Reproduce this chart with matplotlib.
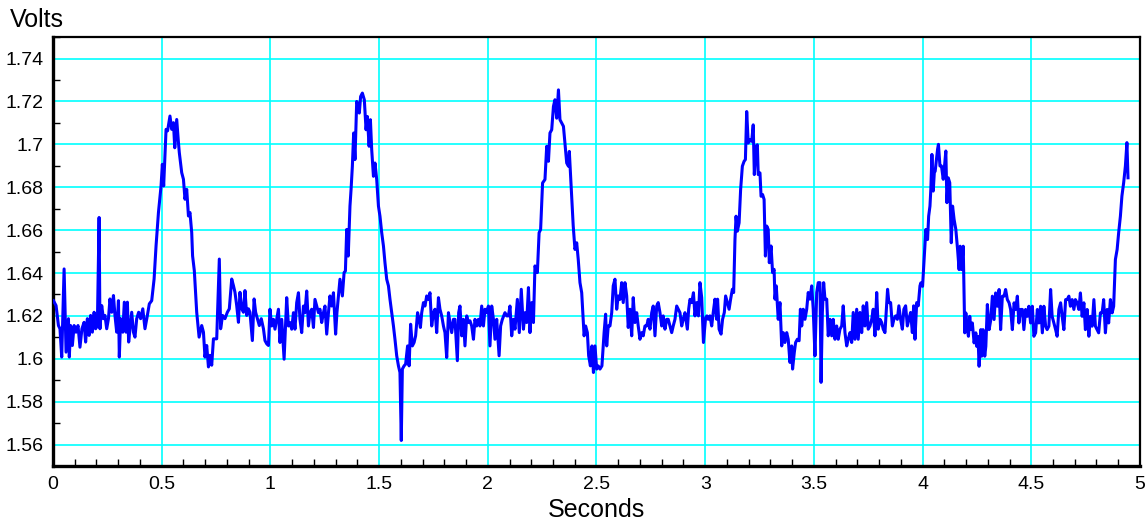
import numpy as np
import matplotlib
matplotlib.use("Agg")
import matplotlib.pyplot as plt
from matplotlib.ticker import MultipleLocator, FuncFormatter

# one list pair per second
t0 = [0.002, 0.014, 0.025, 0.032, 0.040, 0.051, 0.060, 0.071, 0.075, 0.081, 0.089, 0.097, 0.106, 0.115,
      0.124, 0.133, 0.143, 0.150, 0.158, 0.166, 0.173, 0.181, 0.189, 0.196, 0.204, 0.212, 0.216, 0.224,
      0.232, 0.239, 0.247, 0.255, 0.262, 0.270, 0.278, 0.285, 0.293, 0.301, 0.305, 0.311, 0.321, 0.328,
      0.336, 0.342, 0.348, 0.354, 0.362, 0.370, 0.377, 0.385, 0.394, 0.403, 0.413, 0.423, 0.434, 0.443,
      0.454, 0.465, 0.474, 0.485, 0.497, 0.503, 0.509, 0.515, 0.520, 0.527, 0.538, 0.546, 0.554, 0.560,
      0.569, 0.577, 0.581, 0.592, 0.600, 0.607, 0.615, 0.623, 0.630, 0.638, 0.642, 0.650, 0.661, 0.672,
      0.684, 0.692, 0.699, 0.707, 0.715, 0.722, 0.730, 0.738, 0.753, 0.765, 0.771, 0.780, 0.791, 0.802,
      0.811, 0.822, 0.830, 0.837, 0.845, 0.853, 0.860, 0.868, 0.876, 0.883, 0.891, 0.899, 0.906, 0.917,
      0.925, 0.932, 0.940, 0.949, 0.958, 0.968, 0.975, 0.983, 0.991]
v0 = [1.6271, 1.6248, 1.6155, 1.6140, 1.6008, 1.6419, 1.6031, 1.6187, 1.6008, 1.6155, 1.6062, 1.6155,
      1.6124, 1.6155, 1.6054, 1.6140, 1.6170, 1.6078, 1.6187, 1.6109, 1.6202, 1.6124, 1.6217, 1.6140,
      1.6155, 1.6659, 1.6140, 1.6248, 1.6187, 1.6202, 1.6140, 1.6187, 1.6279, 1.6217, 1.6295, 1.6202,
      1.6124, 1.6271, 1.6008, 1.6187, 1.6124, 1.6264, 1.6124, 1.6264, 1.6078, 1.6140, 1.6217, 1.6124,
      1.6101, 1.6187, 1.6217, 1.6187, 1.6233, 1.6140, 1.6202, 1.6256, 1.6271, 1.6372, 1.6527, 1.6682,
      1.6806, 1.6907, 1.6806, 1.6946, 1.7070, 1.7063, 1.7132, 1.7070, 1.7101, 1.6984, 1.7116, 1.7008,
      1.6961, 1.6868, 1.6837, 1.6744, 1.6790, 1.6666, 1.6682, 1.6589, 1.6480, 1.6411, 1.6217, 1.6101,
      1.6155, 1.6124, 1.6008, 1.6062, 1.5962, 1.6016, 1.5970, 1.6093, 1.6093, 1.6465, 1.6140, 1.6202,
      1.6187, 1.6217, 1.6233, 1.6372, 1.6341, 1.6310, 1.6248, 1.6170, 1.6310, 1.6233, 1.6217, 1.6318,
      1.6202, 1.6233, 1.6217, 1.6085, 1.6279, 1.6217, 1.6187, 1.6155, 1.6187, 1.6140, 1.6085, 1.6070,
      1.6062]

t1 = [0.998, 1.006, 1.014, 1.021, 1.029, 1.037, 1.044, 1.052, 1.063, 1.075, 1.083, 1.090, 1.098, 1.106,
      1.113, 1.121, 1.129, 1.136, 1.144, 1.152, 1.159, 1.167, 1.175, 1.182, 1.190, 1.198, 1.205, 1.213,
      1.221, 1.228, 1.236, 1.244, 1.251, 1.259, 1.267, 1.274, 1.282, 1.290, 1.300, 1.306, 1.313, 1.320,
      1.331, 1.339, 1.345, 1.351, 1.358, 1.366, 1.371, 1.377, 1.383, 1.389, 1.397, 1.404, 1.409, 1.415,
      1.423, 1.432, 1.440, 1.446, 1.454, 1.460, 1.466, 1.474, 1.481, 1.489, 1.497, 1.504, 1.512, 1.520,
      1.527, 1.535, 1.543, 1.550, 1.558, 1.566, 1.573, 1.581, 1.589, 1.596, 1.602, 1.607, 1.615, 1.622,
      1.631, 1.638, 1.645, 1.653, 1.661, 1.668, 1.677, 1.684, 1.690, 1.696, 1.704, 1.711, 1.719, 1.727,
      1.734, 1.742, 1.750, 1.757, 1.765, 1.773, 1.780, 1.788, 1.796, 1.803, 1.811, 1.819, 1.826, 1.834,
      1.842, 1.849, 1.860, 1.866, 1.872, 1.880, 1.888, 1.895, 1.903, 1.911, 1.918, 1.926, 1.934, 1.941,
      1.949, 1.957, 1.964, 1.972, 1.980, 1.987, 1.993]
v1 = [1.6231, 1.6153, 1.6184, 1.6138, 1.6184, 1.6231, 1.6076, 1.6184, 1.5998, 1.6285, 1.6153, 1.6169,
      1.6138, 1.6215, 1.6138, 1.6262, 1.6308, 1.6184, 1.6122, 1.6246, 1.6215, 1.6316, 1.6153, 1.6215,
      1.6231, 1.6146, 1.6277, 1.6246, 1.6215, 1.6231, 1.6169, 1.6215, 1.6246, 1.6115, 1.6215, 1.6293,
      1.6246, 1.6308, 1.6115, 1.6215, 1.6293, 1.6371, 1.6293, 1.6402, 1.6409, 1.6603, 1.6479, 1.6712,
      1.6789, 1.6898, 1.7053, 1.6929, 1.7200, 1.7177, 1.7146, 1.7223, 1.7239, 1.7208, 1.7068, 1.7130,
      1.6991, 1.7115, 1.6975, 1.6851, 1.6913, 1.6836, 1.6712, 1.6665, 1.6588, 1.6526, 1.6448, 1.6371,
      1.6340, 1.6278, 1.6215, 1.6153, 1.6091, 1.6014, 1.5967, 1.5936, 1.5619, 1.5952, 1.5967, 1.5975,
      1.6060, 1.5967, 1.6161, 1.6060, 1.6076, 1.6107, 1.6215, 1.6184, 1.6146, 1.6215, 1.6262, 1.6246,
      1.6293, 1.6277, 1.6308, 1.6153, 1.6215, 1.6231, 1.6122, 1.6285, 1.6231, 1.6200, 1.6153, 1.6122,
      1.6006, 1.6215, 1.6169, 1.6122, 1.6184, 1.6184, 1.5991, 1.6215, 1.6246, 1.6107, 1.6184, 1.6060,
      1.6200, 1.6169, 1.6177, 1.6153, 1.6091, 1.6184, 1.6153, 1.6184, 1.6153, 1.6246, 1.6153, 1.6231,
      1.6215]

t2 = [2.003, 2.010, 2.018, 2.026, 2.033, 2.041, 2.052, 2.059, 2.067, 2.079, 2.087, 2.095, 2.102, 2.110,
      2.118, 2.125, 2.136, 2.145, 2.154, 2.164, 2.171, 2.179, 2.187, 2.194, 2.202, 2.210, 2.217, 2.228,
      2.236, 2.243, 2.252, 2.263, 2.271, 2.279, 2.286, 2.294, 2.302, 2.309, 2.317, 2.325, 2.332, 2.340,
      2.348, 2.355, 2.363, 2.371, 2.375, 2.386, 2.393, 2.401, 2.409, 2.416, 2.424, 2.432, 2.443, 2.450,
      2.458, 2.464, 2.472, 2.479, 2.486, 2.493, 2.501, 2.508, 2.516, 2.525, 2.535, 2.542, 2.547, 2.554,
      2.562, 2.570, 2.577, 2.585, 2.593, 2.600, 2.608, 2.616, 2.623, 2.631, 2.639, 2.646, 2.654, 2.662,
      2.669, 2.677, 2.685, 2.692, 2.700, 2.708, 2.715, 2.723, 2.731, 2.738, 2.746, 2.754, 2.761, 2.769,
      2.777, 2.784, 2.792, 2.800, 2.807, 2.815, 2.823, 2.830, 2.838, 2.846, 2.853, 2.861, 2.869, 2.876,
      2.884, 2.892, 2.899, 2.907, 2.918, 2.924, 2.930, 2.938, 2.946, 2.953, 2.961, 2.969, 2.976, 2.984,
      2.992]
v2 = [1.6246, 1.6060, 1.6246, 1.6184, 1.6091, 1.6184, 1.6014, 1.6153, 1.6184, 1.6215, 1.6200, 1.6200,
      1.6246, 1.6107, 1.6184, 1.6138, 1.6277, 1.6122, 1.6324, 1.6138, 1.6215, 1.6169, 1.6332, 1.6122,
      1.6262, 1.6169, 1.6433, 1.6402, 1.6588, 1.6603, 1.6820, 1.6836, 1.6991, 1.6921, 1.7053, 1.7068,
      1.7177, 1.7208, 1.7122, 1.7254, 1.7115, 1.7099, 1.7084, 1.7006, 1.6913, 1.6898, 1.6967, 1.6758,
      1.6619, 1.6510, 1.6541, 1.6464, 1.6355, 1.6308, 1.6107, 1.6153, 1.6122, 1.6014, 1.5967, 1.6060,
      1.5936, 1.6060, 1.5952, 1.5967, 1.5952, 1.5967, 1.6122, 1.6208, 1.6060, 1.6153, 1.6153, 1.6215,
      1.6340, 1.6371, 1.6231, 1.6293, 1.6277, 1.6355, 1.6262, 1.6355, 1.6293, 1.6146, 1.6231, 1.6107,
      1.6285, 1.6169, 1.6215, 1.6153, 1.6091, 1.6122, 1.6107, 1.6153, 1.6153, 1.6184, 1.6138, 1.6215,
      1.6246, 1.6107, 1.6246, 1.6262, 1.6215, 1.6153, 1.6200, 1.6138, 1.6184, 1.6184, 1.6153, 1.6122,
      1.6153, 1.6184, 1.6246, 1.6231, 1.6215, 1.6153, 1.6184, 1.6215, 1.6138, 1.6231, 1.6277, 1.6262,
      1.6308, 1.6200, 1.6262, 1.6200, 1.6355, 1.6285, 1.6076]

t3 = [3.002, 3.008, 3.014, 3.022, 3.030, 3.037, 3.045, 3.053, 3.057, 3.064, 3.073, 3.080, 3.088, 3.094,
      3.102, 3.110, 3.117, 3.125, 3.131, 3.137, 3.142, 3.148, 3.156, 3.163, 3.171, 3.179, 3.185, 3.191,
      3.198, 3.206, 3.214, 3.221, 3.226, 3.234, 3.240, 3.244, 3.252, 3.257, 3.264, 3.271, 3.277, 3.283,
      3.290, 3.295, 3.303, 3.310, 3.317, 3.321, 3.327, 3.336, 3.344, 3.352, 3.359, 3.367, 3.375, 3.382,
      3.390, 3.398, 3.402, 3.410, 3.416, 3.424, 3.432, 3.438, 3.444, 3.451, 3.459, 3.467, 3.474, 3.482,
      3.490, 3.497, 3.505, 3.513, 3.520, 3.528, 3.533, 3.539, 3.545, 3.551, 3.559, 3.566, 3.574, 3.582,
      3.589, 3.597, 3.605, 3.612, 3.620, 3.628, 3.635, 3.643, 3.651, 3.658, 3.666, 3.674, 3.681, 3.689,
      3.697, 3.704, 3.712, 3.720, 3.727, 3.735, 3.743, 3.750, 3.758, 3.766, 3.773, 3.781, 3.789, 3.796,
      3.804, 3.812, 3.819, 3.827, 3.839, 3.845, 3.853, 3.861, 3.868, 3.876, 3.884, 3.891, 3.899, 3.907,
      3.914, 3.922, 3.930, 3.937, 3.945, 3.953, 3.959, 3.965, 3.973, 3.980, 3.988]
v3 = [1.6192, 1.6200, 1.6184, 1.6200, 1.6153, 1.6216, 1.6278, 1.6184, 1.6278, 1.6138, 1.6115, 1.6184,
      1.6216, 1.6293, 1.6262, 1.6231, 1.6278, 1.6324, 1.6309, 1.6557, 1.6665, 1.6595, 1.6634, 1.6789,
      1.6898, 1.6921, 1.6929, 1.7153, 1.7006, 1.7022, 1.7014, 1.7091, 1.6859, 1.6991, 1.6998, 1.6859,
      1.6867, 1.6758, 1.6766, 1.6743, 1.6479, 1.6619, 1.6603, 1.6448, 1.6526, 1.6402, 1.6417, 1.6278,
      1.6340, 1.6184, 1.6262, 1.6060, 1.6122, 1.6076, 1.6122, 1.6091, 1.5983, 1.6060, 1.5952, 1.6030,
      1.6076, 1.6091, 1.6084, 1.6231, 1.6153, 1.6231, 1.6184, 1.6231, 1.6309, 1.6278, 1.6340, 1.6231,
      1.6014, 1.6309, 1.6355, 1.6355, 1.5890, 1.6216, 1.6355, 1.6278, 1.6278, 1.6107, 1.6184, 1.6107,
      1.6184, 1.6091, 1.6153, 1.6091, 1.6138, 1.6153, 1.6247, 1.6122, 1.6060, 1.6091, 1.6122, 1.6076,
      1.6216, 1.6091, 1.6231, 1.6091, 1.6216, 1.6122, 1.6247, 1.6153, 1.6262, 1.6138, 1.6153, 1.6184,
      1.6231, 1.6107, 1.6309, 1.6138, 1.6184, 1.6169, 1.6138, 1.6122, 1.6324, 1.6262, 1.6262, 1.6153,
      1.6184, 1.6200, 1.6184, 1.6247, 1.6184, 1.6138, 1.6231, 1.6247, 1.6153, 1.6184, 1.6216, 1.6122,
      1.6247, 1.6091, 1.6262, 1.6247, 1.6340]

t4 = [3.992, 4.000, 4.008, 4.015, 4.023, 4.028, 4.034, 4.038, 4.043, 4.049, 4.054, 4.058, 4.064, 4.069,
      4.073, 4.080, 4.087, 4.095, 4.101, 4.107, 4.112, 4.118, 4.125, 4.132, 4.138, 4.145, 4.153, 4.161,
      4.168, 4.173, 4.179, 4.187, 4.194, 4.199, 4.206, 4.211, 4.217, 4.222, 4.229, 4.237, 4.245, 4.249,
      4.255, 4.260, 4.268, 4.272, 4.278, 4.286, 4.291, 4.298, 4.306, 4.314, 4.321, 4.329, 4.336, 4.344,
      4.352, 4.359, 4.367, 4.375, 4.382, 4.390, 4.398, 4.405, 4.413, 4.421, 4.428, 4.436, 4.443, 4.451,
      4.459, 4.466, 4.474, 4.482, 4.489, 4.497, 4.505, 4.512, 4.520, 4.528, 4.535, 4.543, 4.551, 4.558,
      4.566, 4.573, 4.581, 4.589, 4.596, 4.604, 4.612, 4.619, 4.627, 4.635, 4.642, 4.650, 4.658, 4.665,
      4.673, 4.680, 4.688, 4.696, 4.703, 4.711, 4.719, 4.726, 4.734, 4.742, 4.749, 4.757, 4.765, 4.772,
      4.780, 4.788, 4.795, 4.803, 4.810, 4.818, 4.826, 4.833, 4.841, 4.849, 4.856, 4.864, 4.872, 4.879,
      4.887, 4.895, 4.902, 4.910, 4.917, 4.925, 4.933, 4.940, 4.945]
v4 = [1.6354, 1.6338, 1.6479, 1.6603, 1.6556, 1.6665, 1.6712, 1.6790, 1.6953, 1.6782, 1.6868, 1.6875,
      1.6930, 1.6977, 1.7000, 1.6899, 1.6899, 1.6837, 1.6899, 1.6969, 1.6728, 1.6844, 1.6821, 1.6541,
      1.6712, 1.6650, 1.6603, 1.6510, 1.6416, 1.6525, 1.6416, 1.6525, 1.6121, 1.6214, 1.6136, 1.6105,
      1.6198, 1.6136, 1.6167, 1.6074, 1.6121, 1.6058, 1.6105, 1.5965, 1.6136, 1.6012, 1.6136, 1.6012,
      1.6058, 1.6253, 1.6136, 1.6183, 1.6292, 1.6183, 1.6307, 1.6245, 1.6323, 1.6136, 1.6292, 1.6292,
      1.6323, 1.6276, 1.6261, 1.6230, 1.6136, 1.6261, 1.6230, 1.6292, 1.6167, 1.6230, 1.6230, 1.6136,
      1.6230, 1.6198, 1.6245, 1.6167, 1.6245, 1.6105, 1.6121, 1.6230, 1.6167, 1.6245, 1.6121, 1.6245,
      1.6152, 1.6136, 1.6152, 1.6323, 1.6198, 1.6167, 1.6136, 1.6105, 1.6230, 1.6261, 1.6198, 1.6136,
      1.6276, 1.6276, 1.6292, 1.6245, 1.6276, 1.6230, 1.6276, 1.6261, 1.6230, 1.6307, 1.6198, 1.6261,
      1.6136, 1.6230, 1.6105, 1.6198, 1.6152, 1.6276, 1.6152, 1.6136, 1.6121, 1.6214, 1.6214, 1.6276,
      1.6121, 1.6230, 1.6167, 1.6276, 1.6214, 1.6245, 1.6463, 1.6510, 1.6588, 1.6665, 1.6759, 1.6821,
      1.6899, 1.7008, 1.6844]

t = np.concatenate([t0, t1, t2, t3, t4])
v = np.concatenate([v0, v1, v2, v3, v4])

fig = plt.figure(figsize=(11.45, 5.23), dpi=100)
plt.rcParams['font.family'] = ['Liberation Sans', 'DejaVu Sans']
ax = fig.add_axes([0.0463, 0.109, 0.9493, 0.820])
ax.plot(t, v, color='#0000ff', lw=2.2, zorder=3)

ax.set_xlim(0, 5)
ax.set_ylim(1.55, 1.75)
ax.xaxis.set_major_locator(MultipleLocator(0.5))
ax.xaxis.set_minor_locator(MultipleLocator(0.1))
ax.yaxis.set_major_locator(MultipleLocator(0.02))
ax.yaxis.set_minor_locator(MultipleLocator(0.01))
ax.yaxis.set_major_formatter(FuncFormatter(lambda x, p: '%g' % round(x, 2)))
ax.xaxis.set_major_formatter(FuncFormatter(lambda x, p: '%g' % x))
ax.grid(True, which='major', color='#00ffff', lw=1.2, zorder=1)
ax.tick_params(which='major', length=0, labelsize=14, pad=7)
ax.tick_params(which='minor', direction='in', length=5, width=1, color='black')
for s in ax.spines.values():
    s.set_linewidth(1.6)
ax.spines['left'].set_linewidth(2.4)
ax.spines['bottom'].set_linewidth(2.4)

ax.set_xlabel('Seconds', fontsize=18, labelpad=4)
fig.text(0.009, 0.962, 'Volts', fontsize=18, va='center', ha='left')

fig.savefig('out.png', dpi=100)
